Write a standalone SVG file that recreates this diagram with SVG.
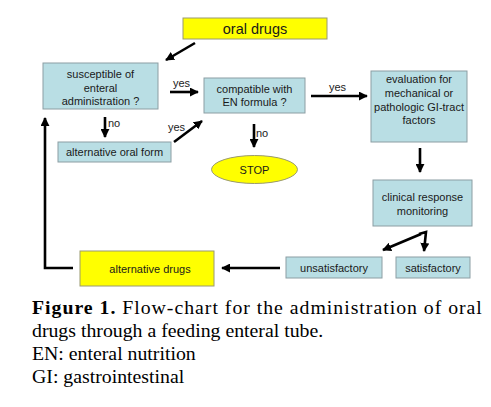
<svg xmlns="http://www.w3.org/2000/svg" width="491" height="407" viewBox="0 0 491 407">
<style>
.bx{fill:#b9dee4;stroke:#8c9ea3;stroke-width:1}
.yb{fill:#ffff00;stroke:#9a9a70;stroke-width:1}
.t{font-family:"Liberation Sans",Arial,sans-serif;font-size:11px;fill:#1a1a1a;text-anchor:middle}
.lb{font-family:"Liberation Sans",Arial,sans-serif;font-size:11px;fill:#1a1a1a}
.ar{fill:none;stroke:#000;stroke-width:2.6;marker-end:url(#ah)}
.cap{font-family:"Liberation Serif","Times New Roman",serif;font-size:18px;fill:#000}
</style>
<defs>
<marker id="ah" markerUnits="userSpaceOnUse" viewBox="0 0 10 10" refX="9" refY="5" markerWidth="9" markerHeight="9" orient="auto">
<path d="M0,0 L10,5 L0,10 z" fill="#000"/>
</marker>
</defs>
<rect width="491" height="407" fill="#fff"/>

<g id="oral-drugs"><rect class="yb" x="183" y="18" width="144" height="21"/><text class="t" x="255" y="34" style="font-size:14.5px">oral drugs</text></g>
<g id="susceptible"><rect class="bx" x="43" y="63" width="115" height="46"/><text class="t" x="100.5" y="78">susceptible of</text><text class="t" x="100.5" y="91.5">enteral</text><text class="t" x="100.5" y="105">administration ?</text></g>
<g id="compatible"><rect class="bx" x="204" y="78" width="101" height="35"/><text class="t" x="254.5" y="93">compatible with</text><text class="t" x="254.5" y="106">EN formula ?</text></g>
<g id="evaluation"><rect class="bx" x="371" y="71" width="96" height="71"/><text class="t" x="419" y="83">evaluation for</text><text class="t" x="419" y="97">mechanical or</text><text class="t" x="419" y="111">pathologic GI-tract</text><text class="t" x="419" y="124">factors</text></g>
<g id="alt-oral-form"><rect class="bx" x="58" y="142" width="113" height="20"/><text class="t" x="114.5" y="156">alternative oral form</text></g>
<g id="stop"><ellipse cx="254.5" cy="169.5" rx="43" ry="14" fill="#ffff00" stroke="#9a9a70"/><text class="t" x="254.5" y="174">STOP</text></g>
<g id="clinical"><rect class="bx" x="373" y="180" width="99" height="46"/><text class="t" x="422.5" y="201">clinical response</text><text class="t" x="422.5" y="215">monitoring</text></g>
<g id="unsatisfactory"><rect class="bx" x="286" y="257" width="96" height="21"/><text class="t" x="334" y="272">unsatisfactory</text></g>
<g id="satisfactory"><rect class="bx" x="396" y="257" width="74" height="21"/><text class="t" x="433" y="272">satisfactory</text></g>
<g id="alt-drugs"><rect class="yb" x="80" y="251" width="134" height="35"/><text class="t" x="150" y="273">alternative drugs</text></g>

<g id="connectors">
<path class="ar" d="M195,43 L166,60"/>
<path class="ar" d="M170,92 L198,92"/>
<text class="lb" x="173" y="87">yes</text>
<path class="ar" d="M311,96 L367,96"/>
<text class="lb" x="329" y="91">yes</text>
<path class="ar" d="M105,117 L105,137"/>
<text class="lb" x="108" y="127">no</text>
<path class="ar" d="M174,142 L202,121"/>
<text class="lb" x="168" y="131">yes</text>
<path class="ar" d="M254,124 L254,147"/>
<text class="lb" x="256" y="137">no</text>
<path class="ar" d="M420,148 L420,172"/>
<path class="ar" d="M421,234 L383,250"/>
<path class="ar" d="M419,234 L426,232 L424,251"/>
<path class="ar" d="M280,268 L222,268"/>
<path class="ar" d="M73,268 L45,268 L45,118"/>
</g>

<g id="caption" transform="translate(32,0) scale(1.1,1)" font-family="'Liberation Serif', 'Times New Roman', serif" font-size="18">
<text class="cap" font-family="'Liberation Serif', 'Times New Roman', serif" x="0" y="314" textLength="409" lengthAdjust="spacing"><tspan font-weight="bold">Figure 1.</tspan> Flow-chart for the administration of oral</text>
<text class="cap" font-family="'Liberation Serif', 'Times New Roman', serif" x="0" y="337">drugs through a feeding enteral tube.</text>
<text class="cap" font-family="'Liberation Serif', 'Times New Roman', serif" x="0" y="360">EN: enteral nutrition</text>
<text class="cap" font-family="'Liberation Serif', 'Times New Roman', serif" x="0" y="383">GI: gastrointestinal</text>
</g>
</svg>
